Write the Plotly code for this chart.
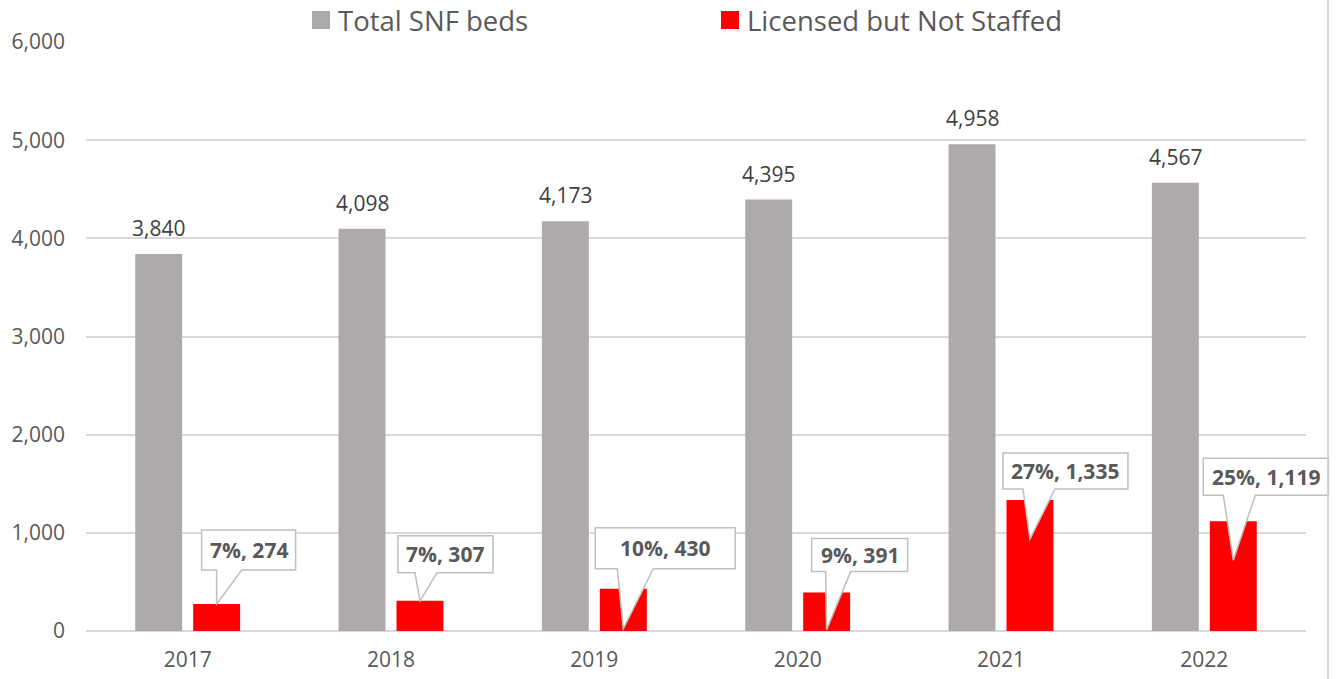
import plotly.graph_objects as go

# ---- data ----
years = ["2017", "2018", "2019", "2020", "2021", "2022"]
total_beds = [3840, 4098, 4173, 4395, 4958, 4567]
not_staffed = [274, 307, 430, 391, 1335, 1119]
not_staffed_pct = [7, 7, 10, 9, 27, 25]

# ---- style ----
GRAY = "#AEAAAA"
RED = "#FF0000"
TXT = "#595959"
LBL = "#404040"
GRID = "#D9D9D9"
FONT = "Open Sans"
BARGAP = 0.43
GROUPGAP = 0.19
YMAX = 6000
slot = (1 - BARGAP) / 2

# callout geometry in pixels relative to the top-centre of each red bar (y up)
# (box_left, box_right, box_bottom, box_top, base_left, base_right, tip_dy)
callout_geom = [
    (-15, 79, 34, 74, 0, 25, 0),
    (-22, 73, 28, 65, -5, 17, 0),
    (-28, 112, 20, 61, -6, 30, -40),
    (-15, 81, 21, 54, -1, 24, -37),
    (-27, 98, 11, 47, -7, 25, -39),
    (-30, 95, 26, 63, -10, 22, -39),
]

xs = list(range(len(years)))
XMIN, XMAX = -0.5, len(years) - 0.5

fig = go.Figure()
fig.add_bar(x=xs, y=total_beds, marker=dict(color=GRAY, line_width=0),
            name="Total SNF beds", showlegend=False, hoverinfo="skip")
fig.add_bar(x=xs, y=not_staffed, marker=dict(color=RED, line_width=0),
            name="Licensed but Not Staffed", showlegend=False, hoverinfo="skip")

annotations = []
shapes = []

# value labels over grey bars
for i, v in enumerate(total_beds):
    annotations.append(dict(
        x=i - slot / 2, y=v, xref="x", yref="y", text=f"{v:,}",
        showarrow=False, yanchor="bottom", yshift=10,
        font=dict(family=FONT, size=21, color=LBL)))

# callouts for red bars
for i, (v, p) in enumerate(zip(not_staffed, not_staffed_pct)):
    bl, br, bb, bt, wl, wr, tip = callout_geom[i]
    path = (f"M{bl},{bt} L{br},{bt} L{br},{bb} L{wr},{bb} L0,{tip} "
            f"L{wl},{bb} L{bl},{bb} Z")
    xc = i + slot / 2
    shapes.append(dict(
        type="path", path=path, layer="above",
        xref="paper", yref="paper",
        xsizemode="pixel", ysizemode="pixel",
        xanchor=(xc - XMIN) / (XMAX - XMIN), yanchor=v / YMAX,
        fillcolor="white", line=dict(color="#BFBFBF", width=1.5)))
    annotations.append(dict(
        x=xc, y=v, xref="x", yref="y", text=f"<b>{p}%, {v:,}</b>",
        showarrow=False, xanchor="center", yanchor="middle",
        xshift=(bl + br) / 2, yshift=(bb + bt) / 2,
        font=dict(family=FONT, size=21, color=TXT)))

# manual legend
L, R, T, B = 86, 31, 42, 48
W = 1337 - L - R
H = 679 - T - B


def px_x(px):
    return (px - L) / W


def px_y(py):
    return 1 + (T - py) / H


legend_items = [("Total SNF beds", GRAY, 312), ("Licensed but Not Staffed", RED, 721)]
for name, col, x0 in legend_items:
    shapes.append(dict(type="rect", xref="paper", yref="paper",
                       x0=px_x(x0), x1=px_x(x0 + 18), y0=px_y(29), y1=px_y(11),
                       fillcolor=col, line_width=0))
    annotations.append(dict(x=px_x(x0 + 24), y=px_y(20), xref="paper", yref="paper",
                            text=name, showarrow=False, xanchor="left", yanchor="middle",
                            font=dict(family=FONT, size=27.5, color=TXT)))

# right border line
shapes.append(dict(type="line", xref="paper", yref="paper",
                   x0=px_x(1328), x1=px_x(1328), y0=px_y(679), y1=px_y(0),
                   line=dict(color="#C5D3CC", width=1.5)))

fig.update_layout(
    width=1337, height=679,
    margin=dict(l=L, r=R, t=T, b=B),
    paper_bgcolor="white", plot_bgcolor="white",
    barmode="group", bargap=BARGAP, bargroupgap=GROUPGAP,
    font=dict(family=FONT, color=TXT),
    showlegend=False,
    annotations=annotations, shapes=shapes,
    xaxis=dict(range=[XMIN, XMAX], tickvals=xs, ticktext=years,
               showgrid=False, zeroline=False, showline=False, ticks="",
               tickfont=dict(family=FONT, size=21, color=TXT),
               ticklabelstandoff=14, automargin=False, fixedrange=True),
    yaxis=dict(range=[0, YMAX], dtick=1000, tickformat=",",
               showgrid=True, gridcolor=GRID, gridwidth=1.5,
               zeroline=True, zerolinecolor=GRID, zerolinewidth=1.5,
               showline=False, ticks="",
               tickfont=dict(family=FONT, size=21, color=TXT),
               ticklabelstandoff=20, automargin=False, fixedrange=True),
)

fig.write_html("out.html", config={"displayModeBar": False},
               post_script="document.body.style.margin='0';document.body.style.overflow='hidden';")
